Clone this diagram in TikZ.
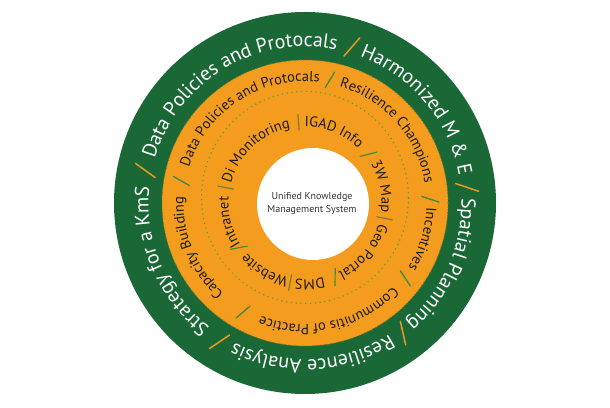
\documentclass[tikz,border=0pt]{standalone}
\usepackage{fontspec}
\setmainfont{PT Sans}
\usetikzlibrary{decorations.text}
\definecolor{ringgreen}{HTML}{1B6837}
\definecolor{ringorange}{HTML}{F39C1E}
\definecolor{slashorange}{HTML}{E89A22}
\definecolor{sepgreen}{HTML}{3D8B3D}
\definecolor{barolive}{HTML}{6E7B2B}
\definecolor{dotgreen}{HTML}{5C9E3C}
\definecolor{coretext}{HTML}{333333}
\definecolor{ringtext}{HTML}{1A1A1A}
% radius, centre angle, format, text, colour
\newcommand\ringlabel[5]{%
  \path[decorate, decoration={text along path, text align=center, text color=#5,
        text={|#3|#4}}]
    ([shift={(#2+60:#1pt)}]C) arc[start angle=#2+60, end angle=#2-60, radius=#1pt];
}
% angle, r1, r2, tilt, colour, width
\newcommand\ringsep[6]{%
  \draw[#5, line width=#6pt, line cap=round] ([shift={(#1+#4:#2pt)}]C) -- ([shift={(#1-#4:#3pt)}]C);
}
\newcommand\outerfmt{\fontsize{20}{20}\selectfont}
\newcommand\middlefmt{\fontsize{14.5}{14.5}\selectfont}
\newcommand\innerfmt{\fontsize{14.5}{14.5}\selectfont}
\begin{document}
\begin{tikzpicture}[x=1pt,y=1pt]
\useasboundingbox (0,0) rectangle (610,407);
\coordinate (C) at (305,204);
\coordinate (D) at (305,209.5);
\coordinate (W) at (313,203);
% rings
\fill[ringgreen] (C) circle[radius=191];
\fill[ringorange] (C) circle[radius=143];
\draw[barolive, line width=0.7pt, dash pattern=on 1.5pt off 1.5pt] (C) circle[radius=143];
\draw[dotgreen, line width=1.6pt, line cap=round, dash pattern=on 0pt off 4.8pt]
  (D) ellipse[x radius=103.5, y radius=106];
\fill[white] (W) circle[radius=56];
\node[font=\fontsize{10}{12.3}\selectfont, align=center, text=coretext, inner sep=0pt]
  (core) at (312,203.5) {Unified Knowledge\\Management System};
% outer ring
\ringlabel{156.5}{121}{\outerfmt}{Data Policies and Protocals}{white}
\ringlabel{156.5}{39.8}{\outerfmt}{Harmonized M {\&} E}{white}
\ringlabel{156.5}{-24}{\outerfmt}{Spatial Planning}{white}
\ringlabel{156.5}{-87.1}{\outerfmt}{Resilience Analysis}{white}
\ringlabel{156.5}{-156.7}{\outerfmt}{Strategy for a KmS}{white}
\foreach \a in {73.4,5.6,-52.9,-121.5,168.6} {\ringsep{\a}{152}{174}{1.75}{slashorange}{1.5}}
% middle ring
\ringlabel{121.5}{123}{\middlefmt}{Data Policies and Protocals}{ringtext}
\ringlabel{121.5}{41.5}{\middlefmt}{Resilience Champions}{ringtext}
\ringlabel{121.5}{-17}{\middlefmt}{Incentives}{ringtext}
\ringlabel{121.5}{-77.5}{\middlefmt}{Communitis of Practice}{ringtext}
\ringlabel{121.5}{-157.5}{\middlefmt}{Capacity Building}{ringtext}
\foreach \a in {78.7,1.8,-36.8,-119.5,170} {\ringsep{\a}{117}{134}{1.4}{sepgreen}{1.3}}
% inner ring
\ringlabel{76.5}{133}{\innerfmt}{Di Monitoring}{ringtext}
\ringlabel{76.5}{68}{\innerfmt}{IGAD Info}{ringtext}
\ringlabel{76.5}{12}{\innerfmt}{3W Map}{ringtext}
\ringlabel{76.5}{-40}{\innerfmt}{Geo Portal}{ringtext}
\ringlabel{76.5}{-86.5}{\innerfmt}{DMS}{ringtext}
\ringlabel{76.5}{-121}{\innerfmt}{Website}{ringtext}
\ringlabel{76.5}{-166}{\innerfmt}{Intranet}{ringtext}
\foreach \a in {94.6,-10.9,-100.6,169} {\ringsep{\a}{73}{89}{0}{barolive}{1.1}}
\foreach \a in {37.8,-67.6,-145.7} {\ringsep{\a}{72}{88}{2.5}{sepgreen}{1.1}}
\end{tikzpicture}
\end{document}
